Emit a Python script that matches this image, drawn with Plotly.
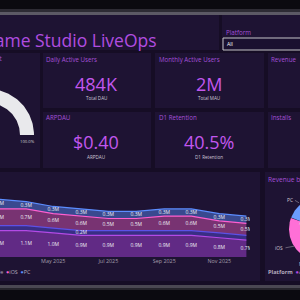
import numpy as np
import plotly.graph_objects as go

FONT = "Open Sans"

# ---------------- data ----------------
months = ["2025-03-01", "2025-04-01", "2025-05-01", "2025-06-01", "2025-07-01",
          "2025-08-01", "2025-09-01", "2025-10-01", "2025-11-01", "2025-12-01"]
platforms = ["Android", "Mobile", "iOS", "PC"]
rev_android = [1.1, 1.1, 1.0, 0.9, 0.9, 0.9, 0.9, 0.9, 0.8, 0.7]
rev_mobile = [0.2, 0.2, 0.2, 0.2, 0.2, 0.2, 0.2, 0.2, 0.2, 0.2]
rev_ios = [0.7, 0.7, 0.6, 0.6, 0.5, 0.5, 0.6, 0.6, 0.5, 0.5]
rev_pc = [0.4, 0.3, 0.3, 0.3, 0.3, 0.3, 0.3, 0.3, 0.3, 0.3]
mobile_label_visible = [False, False, False, True, False, False, False, False, False, False]
month_ticks = ["2025-03-01", "2025-05-01", "2025-07-01", "2025-09-01", "2025-11-01"]

pie_platforms = ["Android", "Mobile", "iOS", "PC"]
pie_revenue = [9.6, 1.5, 6.3, 4.2]

kpi_titles = ["Daily Active Users", "Monthly Active Users", "ARPDAU", "D1 Retention"]
kpi_values = ["484K", "2M", "$0.40", "40.5%"]
kpi_captions = ["Total DAU", "Total MAU", "ARPDAU", "D1 Retention"]
empty_card_titles = ["Revenue", "Installs"]

gauge_title = "Revenue vs Target"
gauge_value = 100.0
gauge_max = 100.0
gauge_label = "100.0%"

dashboard_title = "Game Studio LiveOps"
slicer_title = "Platform"
slicer_value = "All"
legend_title = "Platform"
pie_title = "Revenue by Platform"

# ---------------- styles ----------------
W, H = 300, 300
PAGE = "#160d25"
CARD = "#1e1333"
TITLE_C = "#a550d8"
VALUE_C = "#c257ee"
CAP_C = "#cfc8d8"
line_col = {"Android": "#b34ae6", "Mobile": "#5d50e6", "iOS": "#ff5fd0", "PC": "#5c8dff"}
fill_col = {"Android": "rgba(180,72,232,0.45)", "Mobile": "rgba(90,80,230,0.45)",
            "iOS": "rgba(255,100,210,0.40)", "PC": "rgba(90,140,255,0.45)"}
pie_col = {"Android": "#b44be1", "iOS": "#ff6fd6", "PC": "#6a9cff", "Mobile": "#5b4fd6"}


def px(x):
    return x / W


def py(y):
    return 1 - y / H


fig = go.Figure()

# ---------------- stacked area ----------------
series = [rev_android, rev_mobile, rev_ios, rev_pc]
for name, vals in zip(platforms, series):
    fig.add_trace(go.Scatter(
        x=months, y=vals, stackgroup="rev", mode="lines", name=name,
        line=dict(color=line_col[name], width=1.2), fillcolor=fill_col[name],
        showlegend=False, hoverinfo="skip", xaxis="x", yaxis="y"))

cum = np.zeros(len(months))
for name, vals in zip(platforms, series):
    v = np.array(vals)
    mid = cum + v / 2
    if name == "Mobile":
        txt = [f"{a:.1f}M" if s else "" for a, s in zip(vals, mobile_label_visible)]
    else:
        txt = [f"{a:.1f}M" for a in vals]
    fig.add_trace(go.Scatter(
        x=months, y=mid, mode="text", text=txt, cliponaxis=True,
        textfont=dict(size=5, color="#ececf4", family=FONT),
        showlegend=False, hoverinfo="skip", xaxis="x", yaxis="y"))
    cum = cum + v

# ---------------- gauge (pixel overlay axis) ----------------
gcx, gcy, gro, gri = -12, 135, 46, 32
frac = gauge_value / gauge_max
th = np.linspace(np.pi, np.pi - np.pi * frac, 120)
gx = np.concatenate([gcx + gro * np.cos(th), (gcx + gri * np.cos(th))[::-1]])
gy = np.concatenate([gcy - gro * np.sin(th), (gcy - gri * np.sin(th))[::-1]])
fig.add_trace(go.Scatter(x=gx, y=gy, fill="toself", mode="lines",
                         line=dict(width=0, color="#e9e9ec"), fillcolor="#e9e9ec",
                         showlegend=False, hoverinfo="skip", xaxis="x2", yaxis="y2"))

# ---------------- pie (pixel overlay axis) ----------------
pcx, pcy, pr = 321, 229, 32
total = sum(pie_revenue)
start = 0.0
pie_mids = []
for name, v in zip(pie_platforms, pie_revenue):
    a0, a1 = start, start + 360 * v / total
    ang = np.radians(np.linspace(a0, a1, 80))
    xs = np.concatenate([[pcx], pcx + pr * np.sin(ang), [pcx]])
    ys = np.concatenate([[pcy], pcy - pr * np.cos(ang), [pcy]])
    fig.add_trace(go.Scatter(x=xs, y=ys, fill="toself", mode="lines",
                             line=dict(width=0, color=pie_col[name]), fillcolor=pie_col[name],
                             showlegend=False, hoverinfo="skip", xaxis="x2", yaxis="y2"))
    pie_mids.append((name, np.radians((a0 + a1) / 2)))
    start = a1

# ---------------- layout ----------------
shapes = []


def rect(x0, y0, x1, y1, color, line=None):
    d = dict(type="rect", xref="paper", yref="paper", x0=px(x0), x1=px(x1),
             y0=py(y1), y1=py(y0), fillcolor=color, layer="below",
             line=dict(width=0) if line is None else line)
    shapes.append(d)


rect(-5, -5, 305, 9, "#0b0a10")
rect(-5, 9, 305, 12, "#2d2b34")
rect(-5, 12, 305, 15, "#5c5965")
rect(-5, 15, 219, 50, CARD)
rect(222, 15, 305, 50, CARD)
rect(-10, 53, 40, 168, CARD)
rect(43, 53, 151, 108, CARD)
rect(155, 53, 264, 108, CARD)
rect(268, 53, 310, 108, CARD)
rect(43, 112, 151, 168, CARD)
rect(155, 112, 264, 168, CARD)
rect(268, 112, 310, 168, CARD)
rect(-10, 172, 260, 281, CARD)
rect(265, 172, 310, 281, CARD)
rect(-5, 285, 305, 288, "#4a4752")
rect(-5, 288, 305, 290, "#26242c")
rect(-5, 290, 305, 305, "#0b0a10")
# slicer dropdown box
shapes.append(dict(type="rect", xref="paper", yref="paper", x0=px(223), x1=px(310),
                   y0=py(50), y1=py(38), fillcolor="#1a1030", layer="below",
                   line=dict(width=1, color="#c4c4c8")))

anns = []


def ann(text, x, y, size, color, xanchor="left", yanchor="middle", **kw):
    d = dict(text=text, xref="paper", yref="paper", x=px(x), y=py(y),
             xanchor=xanchor, yanchor=yanchor, showarrow=False,
             font=dict(size=size, color=color, family=FONT))
    d.update(kw)
    anns.append(d)


ann(dashboard_title, 159, 40, 17.5, "#b14de0", xanchor="right")
ann(slicer_title, 224, 32, 6.2, TITLE_C)
ann(slicer_value, 225, 44, 5.2, "#ffffff")
ann(gauge_title, 3.5, 58, 6.2, TITLE_C, xanchor="right")
ann(gauge_label, 27, 141, 4.2, "#d8d8d8", xanchor="center")

title_pos = [(44, 59), (157, 59), (44, 117), (157, 117)]
value_pos = [(96, 84), (209, 84), (96, 142), (209, 142)]
cap_pos = [(96, 98), (209, 98), (96, 157), (209, 157)]
for t, v, c, tp, vp, cp in zip(kpi_titles, kpi_values, kpi_captions, title_pos, value_pos, cap_pos):
    ann(t, tp[0], tp[1], 6.2, TITLE_C)
    ann(v, vp[0], vp[1], 18, VALUE_C, xanchor="center")
    ann(c, cp[0], cp[1], 4.6, CAP_C, xanchor="center")
for t, p in zip(empty_card_titles, [(269, 59), (269, 117)]):
    ann(t, p[0], p[1], 6.2, TITLE_C)

ann(pie_title, 266, 179, 6.6, TITLE_C, xanchor="left")

legend_items = "  ".join(f"<span style='color:{line_col[n]}'>●</span>{n}" for n in platforms)
ann(f"<b>{legend_title}</b>  " + legend_items, 33, 272, 5.4, "#b4acbe", xanchor="right")
pie_legend_items = "  ".join(f"<span style='color:{pie_col[n]}'>●</span>{n}" for n in pie_platforms)
ann(f"<b>{legend_title}</b>  " + pie_legend_items, 266, 272, 5.6, "#b4acbe", xanchor="left")

# pie outside labels with leader lines
for name, a in pie_mids:
    ex, ey = pcx + pr * np.sin(a), pcy - pr * np.cos(a)
    dx, dy = np.sin(a), -np.cos(a)
    side = -1 if dx < 0 else 1
    tx, ty = ex + 3 * dx + 6 * side, ey + 3 * dy
    anns.append(dict(text=name, xref="paper", yref="paper", x=px(ex), y=py(ey),
                     ax=tx - ex, ay=ty - ey, showarrow=True, arrowhead=0, arrowwidth=0.6,
                     arrowcolor="#9a94a0", standoff=0,
                     xanchor="right" if side < 0 else "left", yanchor="middle",
                     font=dict(size=4.8, color="#d0ccd6", family=FONT)))

fig.update_layout(
    width=W, height=H, margin=dict(l=0, r=0, t=0, b=0),
    paper_bgcolor=PAGE, plot_bgcolor="rgba(0,0,0,0)",
    font=dict(family=FONT, color="#cccccc"),
    showlegend=False, shapes=shapes, annotations=anns,
    xaxis=dict(domain=[0, 250 / W], range=["2025-03-03", "2025-12-05"], type="date",
               tickvals=month_ticks, tickformat="%b %Y", showgrid=False, zeroline=False,
               showline=False, ticks="", tickfont=dict(size=5.4, color="#a49dac", family=FONT),
               anchor="y", fixedrange=True),
    yaxis=dict(domain=[py(257), py(180)], range=[0, 3.2], visible=False,
               anchor="x", fixedrange=True),
    xaxis2=dict(domain=[0, 1], range=[0, W], visible=False, anchor="y2", fixedrange=True),
    yaxis2=dict(domain=[0, 1], range=[H, 0], visible=False, anchor="x2", fixedrange=True),
)

fig.write_html("out.html")
